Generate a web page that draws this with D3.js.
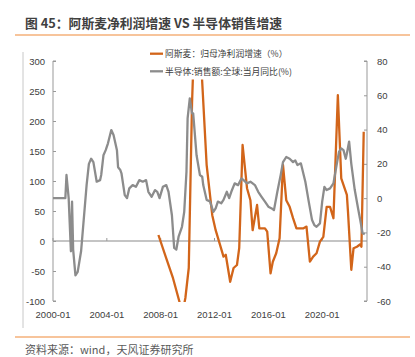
<!DOCTYPE html>
<html><head><meta charset="utf-8">
<script src="https://cdn.jsdelivr.net/npm/d3@7"></script>
<style>
body{margin:0;background:#fff;}
svg{display:block;}
</style></head>
<body>
<svg id="c" width="415" height="357"></svg>
<script>
const title = "图 45：阿斯麦净利润增速 VS 半导体销售增速";
const source = "资料来源：wind，天风证券研究所";
const seriesNames = ["阿斯麦：归母净利润增速（%）", "半导体:销售额:全球:当月同比(%)"];
const xTickLabels = ["2000-01","2004-01","2008-01","2012-01","2016-01","2020-01"];
const leftTicks = [-100,-50,0,50,100,150,200,250,300];
const rightTicks = [-60,-40,-20,0,20,40,60,80];

// ASML net profit growth (%), left axis
const asmlDates = ["2007-11","2008-06","2008-12","2009-06","2009-08","2009-11","2010-02","2010-05","2010-09","2011-02","2011-06","2011-11","2012-02","2012-06","2012-09","2012-11","2013-03","2013-06","2013-09","2013-11","2014-02","2014-06","2014-09","2014-11","2015-03","2015-05","2015-10","2015-12","2016-03","2016-05","2016-08","2016-11","2017-02","2017-05","2017-08","2017-11","2018-02","2018-08","2018-11","2019-02","2019-05","2019-08","2019-11","2020-02","2020-05","2020-08","2020-11","2021-03","2021-06","2021-11","2021-12","2022-03","2022-05","2022-08","2022-11","2022-12","2023-02"];
const asmlValues = [10,-29,-62,-103,-125,-95,-45,230,450,265,127,43,18,-7,-26,-23,-68,-45,-40,-12,160,88,68,18,60,21,21,15.5,-54,-34.5,-20.5,4.5,127,68,57,38,21,21,24,-34.5,-26,-20.5,-1,7,57,57,38,243,104.5,77,49,-48,-12,-9.5,-5.5,-9.5,182];

// Global semiconductor sales YoY (%), right axis
const semiDates = ["2000-01","2000-12","2001-01","2001-03","2001-05","2001-06","2001-07","2001-09","2001-11","2002-02","2002-07","2002-09","2002-11","2003-01","2003-04","2003-07","2003-08","2003-10","2003-12","2004-02","2004-05","2004-07","2004-10","2004-11","2005-01","2005-02","2005-05","2005-07","2005-09","2005-12","2006-03","2006-06","2006-09","2006-12","2007-02","2007-05","2007-08","2007-10","2007-12","2008-03","2008-06","2008-08","2008-11","2009-01","2009-03","2009-05","2009-08","2009-10","2009-12","2010-01","2010-03","2010-05","2010-06","2010-09","2010-12","2011-02","2011-03","2011-06","2011-09","2011-12","2012-02","2012-04","2012-07","2012-09","2012-12","2013-02","2013-04","2013-07","2013-10","2014-01","2014-03","2014-06","2014-09","2015-01","2015-04","2015-07","2015-10","2016-01","2016-04","2016-06","2016-09","2016-12","2017-02","2017-05","2017-08","2017-11","2018-01","2018-03","2018-06","2018-10","2019-01","2019-04","2019-06","2019-08","2019-11","2020-01","2020-03","2020-05","2020-08","2020-11","2021-02","2021-04","2021-06","2021-08","2021-10","2021-11","2022-01","2022-03","2022-06","2022-09","2022-11","2023-01","2023-03"];
const semiValues = [0,0,13.5,0,-31,-2,-30,-45,-43,-31,7.6,20,23,21,9.6,10.5,13.5,25,28,32,39.7,36.8,28,18,16.4,14.5,1.8,0,5.7,7.6,6.6,10.5,9.6,10.5,3.7,0.8,4.7,3.7,0,6.6,7.6,3.7,-10,-29,-30,-22.5,-16.7,-8,15.4,46.5,58.2,49.5,49.5,25,13.5,12.5,7.6,-1,-2,-8,-6,-2,-3,-1,3.7,0,3.7,8.6,7.6,11.5,10.5,8.6,9.6,7.6,3.7,0.8,-2,-5,-6,-7,3.7,13.5,21,24,23,21,22,19.3,20.3,9.6,-2,-12.8,-15.7,-16.7,-14.7,-2,6.6,4.7,5.7,8.6,20,27,29,28,23,26,33,20,5,-6,-13,-20.5,-21];

const parse = d3.timeParse("%Y-%m");
const asml = asmlDates.map((d,i)=>({date:parse(d), v:asmlValues[i]}));
const semi = semiDates.map((d,i)=>({date:parse(d), v:semiValues[i]}));

const svg = d3.select("#c");
const L = 53, R = 367, T = 61, B = 301;
const x = d3.scaleTime().domain([parse("2000-01"), parse("2023-05")]).range([L, R]);
const yL = d3.scaleLinear().domain([-100, 300]).range([B, T]);
const yR = d3.scaleLinear().domain([-60, 80]).range([B, T]);

const numFont = "'Liberation Sans', Arial, sans-serif";
const cjkFont = "'Noto Sans CJK SC', 'Noto Sans', sans-serif";
const orange = "#d2651a", gray = "#8c8c8c", accent = "#f5b07a";

// title
svg.append("text").attr("x", 25).attr("y", 27.5).text(title)
  .attr("font-family", cjkFont).attr("font-size", 12.8).attr("font-weight", 700).attr("fill", "#404040");
svg.append("line").attr("x1", 15).attr("x2", 410).attr("y1", 35).attr("y2", 35).attr("stroke", accent).attr("stroke-width", 1.6);
svg.append("line").attr("x1", 15).attr("x2", 410).attr("y1", 337).attr("y2", 337).attr("stroke", accent).attr("stroke-width", 1.6);
svg.append("line").attr("x1", 23).attr("x2", 23).attr("y1", 52).attr("y2", 328).attr("stroke", "#c8c8c8").attr("stroke-width", 1);
svg.append("text").attr("x", 25).attr("y", 354).text(source)
  .attr("font-family", cjkFont).attr("font-size", 11).attr("fill", "#595959");

// zero line
svg.append("line").attr("x1", L).attr("x2", R).attr("y1", yL(0)).attr("y2", yL(0)).attr("stroke", "#b0b0b0").attr("stroke-width", 1.5);
// x ticks
xTickLabels.forEach(t => {
  const xp = x(parse(t));
  svg.append("line").attr("x1", xp).attr("x2", xp).attr("y1", yL(0)).attr("y2", yL(0)-3).attr("stroke", "#999");
  svg.append("text").attr("x", xp).attr("y", 317.5).attr("text-anchor", "middle").text(t)
    .attr("font-family", numFont).attr("font-size", 9.5).attr("fill", "#404040");
});

// left axis
const gl = svg.append("g").attr("transform", `translate(${L},0)`)
  .call(d3.axisRight(yL).tickValues(leftTicks).tickSize(3).tickFormat(""));
gl.select(".domain").attr("stroke", "#999").attr("d", `M3,${T}H0V${B}H3`);
gl.selectAll(".tick line").attr("stroke", "#999");
leftTicks.forEach(t => svg.append("text").attr("x", 45).attr("y", yL(t)+3.5).attr("text-anchor", "end").text(t)
  .attr("font-family", numFont).attr("font-size", 9.5).attr("fill", "#404040"));

// right axis
const gr = svg.append("g").attr("transform", `translate(${R},0)`)
  .call(d3.axisLeft(yR).tickValues(rightTicks).tickSize(3).tickFormat(""));
gr.select(".domain").attr("stroke", "#999").attr("d", `M-3,${T}H0V${B}H-3`);
gr.selectAll(".tick line").attr("stroke", "#999");
rightTicks.forEach(t => svg.append("text").attr("x", 377).attr("y", yR(t)+3.5).attr("text-anchor", "start").text(t)
  .attr("font-family", numFont).attr("font-size", 9.5).attr("fill", "#404040"));

// clip
svg.append("clipPath").attr("id", "plot").append("rect").attr("x", L).attr("y", T-10).attr("width", R-L+2).attr("height", B-T+11);

svg.append("path").datum(asml).attr("clip-path", "url(#plot)")
  .attr("d", d3.line().x(d=>x(d.date)).y(d=>yL(d.v)))
  .attr("fill", "none").attr("stroke", orange).attr("stroke-width", 2.3).attr("stroke-linejoin", "round");
svg.append("path").datum(semi).attr("clip-path", "url(#plot)")
  .attr("d", d3.line().x(d=>x(d.date)).y(d=>yR(d.v)))
  .attr("fill", "none").attr("stroke", gray).attr("stroke-width", 2.3).attr("stroke-linejoin", "round");

// legend
svg.append("rect").attr("x", 148).attr("y", 40).attr("width", 200).attr("height", 39.5).attr("fill", "#fff");
const lg = [{c:orange, y:53.7, t:seriesNames[0]}, {c:gray, y:71.3, t:seriesNames[1]}];
lg.forEach(d => {
  svg.append("line").attr("x1", 150).attr("x2", 163).attr("y1", d.y).attr("y2", d.y).attr("stroke", d.c).attr("stroke-width", 2.3);
  svg.append("text").attr("x", 165).attr("y", d.y+3.2).text(d.t)
    .attr("font-family", cjkFont).attr("font-size", 8.8).attr("fill", "#404040");
});
</script>
</body></html>
